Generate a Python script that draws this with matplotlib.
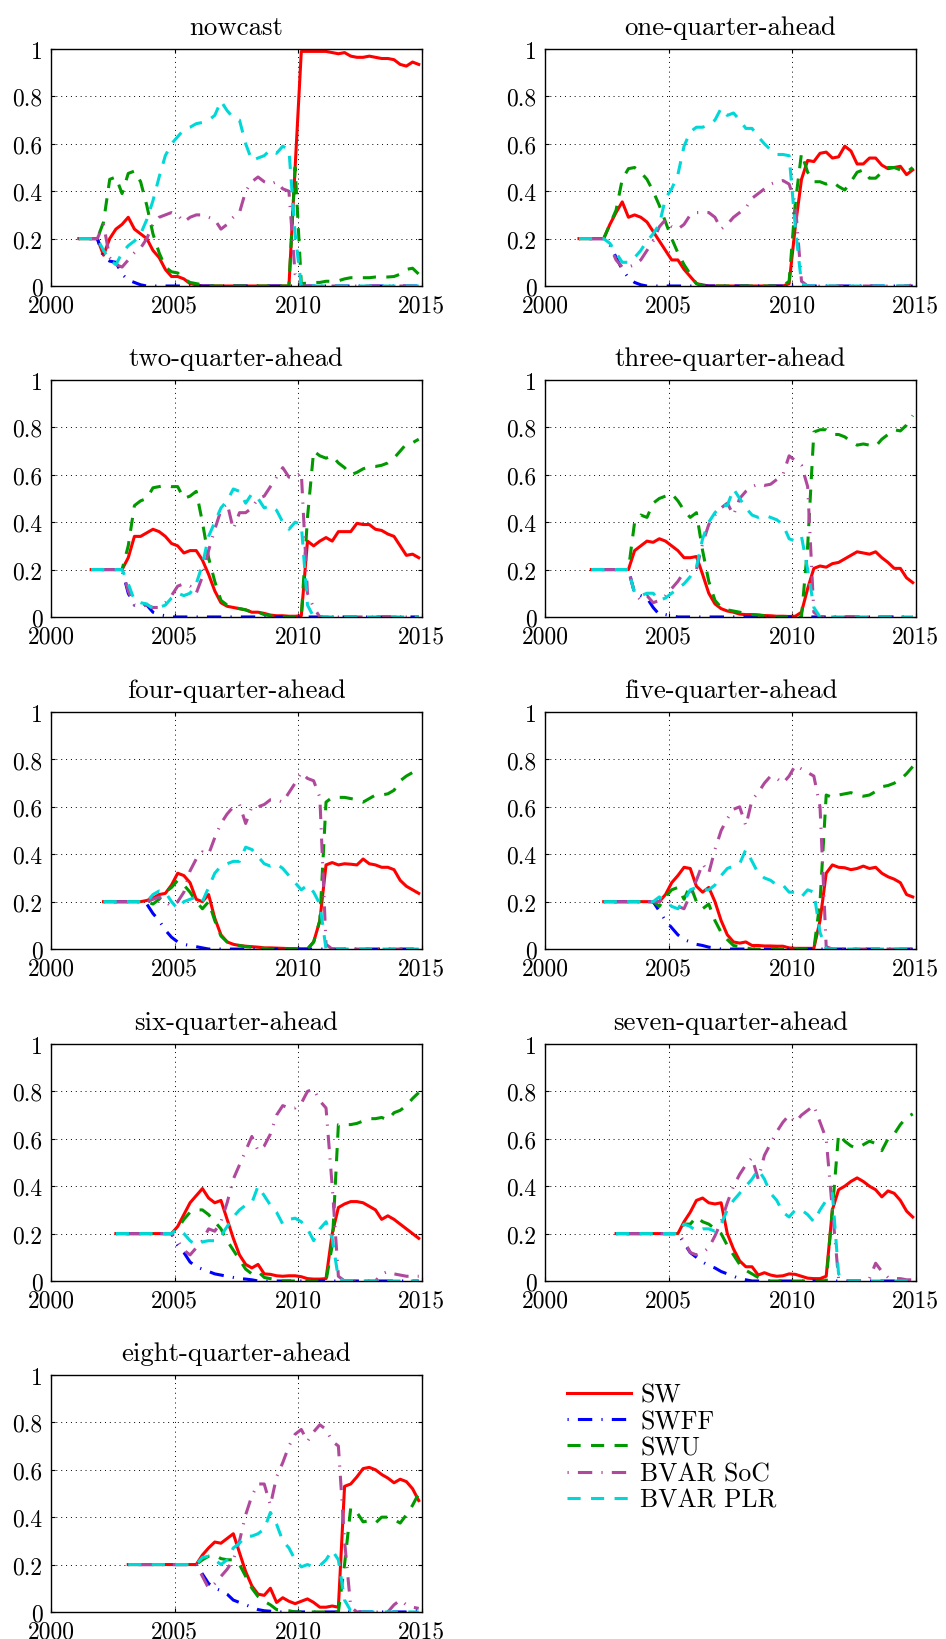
import numpy as np
import matplotlib
matplotlib.use('Agg')
import matplotlib.pyplot as plt

# quarterly dates, every series ends at the last one
quarters = np.arange(56) * 0.25 + 2001.125

titles = ['nowcast', 'one-quarter-ahead', 'two-quarter-ahead', 'three-quarter-ahead',
          'four-quarter-ahead', 'five-quarter-ahead', 'six-quarter-ahead',
          'seven-quarter-ahead', 'eight-quarter-ahead']
labels = ['SW', 'SWFF', 'SWU', 'BVAR SoC', 'BVAR PLR']

# model weights, one list per model and horizon
sw_h0 = [0.2, 0.2, 0.2, 0.2, 0.13, 0.2, 0.24, 0.26, 0.29, 0.24, 0.22, 0.2, 0.15, 0.12, 0.07, 0.04,
         0.04, 0.03, 0.01, 0.005, 0, 0, 0, 0, 0, 0, 0, 0, 0, 0, 0, 0, 0, 0, 0, 0.5, 0.99, 0.99, 0.99,
         0.99, 0.99, 0.985, 0.98, 0.985, 0.97, 0.965, 0.965, 0.97, 0.965, 0.96, 0.96, 0.955, 0.935,
         0.928, 0.945, 0.935]
swff_h0 = [0.2, 0.2, 0.2, 0.2, 0.12, 0.105, 0.1, 0.05, 0.025, 0.015, 0.005, 0, 0, 0, 0, 0, 0, 0, 0,
           0, 0, 0, 0, 0, 0, 0, 0, 0, 0, 0, 0, 0, 0, 0, 0, 0, 0, 0, 0, 0, 0, 0, 0, 0, 0, 0, 0, 0, 0,
           0, 0, 0, 0, 0, 0, 0]
swu_h0 = [0.2, 0.2, 0.2, 0.2, 0.27, 0.45, 0.46, 0.39, 0.475, 0.485, 0.44, 0.34, 0.22, 0.14, 0.08,
          0.06, 0.055, 0.03, 0.015, 0.01, 0.005, 0, 0, 0, 0, 0, 0, 0, 0, 0, 0, 0, 0, 0, 0, 0.5, 0.01,
          0.012, 0.015, 0.015, 0.02, 0.02, 0.022, 0.03, 0.035, 0.035, 0.035, 0.035, 0.038, 0.038,
          0.038, 0.04, 0.05, 0.07, 0.075, 0.05]
soc_h0 = [0.2, 0.2, 0.2, 0.2, 0.26, 0.12, 0.09, 0.08, 0.11, 0.14, 0.16, 0.2, 0.26, 0.29, 0.3, 0.31,
          0.3, 0.27, 0.29, 0.3, 0.3, 0.29, 0.28, 0.24, 0.26, 0.29, 0.31, 0.4, 0.44, 0.46, 0.44, 0.43,
          0.44, 0.41, 0.4, 0.05, 0, 0, 0, 0, 0, 0, 0, 0, 0, 0, 0, 0, 0, 0, 0, 0, 0, 0, 0, 0]
plr_h0 = [0.2, 0.2, 0.2, 0.2, 0.15, 0.11, 0.09, 0.14, 0.17, 0.19, 0.22, 0.28, 0.36, 0.46, 0.55, 0.6,
          0.63, 0.66, 0.67, 0.685, 0.69, 0.7, 0.72, 0.78, 0.74, 0.71, 0.7, 0.6, 0.53, 0.54, 0.55,
          0.575, 0.56, 0.59, 0.575, 0.22, 0, 0, 0, 0, 0, 0, 0, 0, 0, 0, 0, 0, 0, 0, 0, 0, 0, 0, 0, 0]

sw_h1 = [0.2, 0.2, 0.2, 0.2, 0.2, 0.26, 0.31, 0.355, 0.29, 0.3, 0.29, 0.27, 0.23, 0.19, 0.15, 0.11,
         0.11, 0.07, 0.04, 0.01, 0.005, 0, 0, 0, 0, 0, 0, 0, 0, 0, 0, 0, 0, 0, 0.01, 0.25, 0.45, 0.53,
         0.525, 0.56, 0.565, 0.54, 0.545, 0.59, 0.57, 0.515, 0.515, 0.54, 0.54, 0.51, 0.495, 0.5,
         0.505, 0.47, 0.49]
swff_h1 = [0.2, 0.2, 0.2, 0.2, 0.2, 0.18, 0.12, 0.07, 0.035, 0.015, 0.005, 0, 0, 0, 0, 0, 0, 0, 0,
           0, 0, 0, 0, 0, 0, 0, 0, 0, 0, 0, 0, 0, 0, 0, 0, 0, 0, 0, 0, 0, 0, 0, 0, 0, 0, 0, 0, 0, 0,
           0, 0, 0, 0, 0, 0]
swu_h1 = [0.2, 0.2, 0.2, 0.2, 0.2, 0.26, 0.32, 0.45, 0.495, 0.5, 0.48, 0.45, 0.4, 0.34, 0.27, 0.2,
          0.14, 0.09, 0.05, 0.01, 0, 0, 0, 0, 0, 0, 0, 0, 0, 0, 0, 0, 0, 0, 0.02, 0.35, 0.56, 0.48,
          0.44, 0.44, 0.43, 0.44, 0.42, 0.405, 0.44, 0.48, 0.49, 0.455, 0.455, 0.48, 0.5, 0.5, 0.49,
          0.48, 0.5]
soc_h1 = [0.2, 0.2, 0.2, 0.2, 0.2, 0.17, 0.11, 0.08, 0.08, 0.09, 0.11, 0.15, 0.19, 0.25, 0.28, 0.25,
          0.24, 0.26, 0.3, 0.31, 0.31, 0.31, 0.29, 0.24, 0.26, 0.29, 0.31, 0.33, 0.37, 0.39, 0.41,
          0.43, 0.44, 0.445, 0.43, 0.35, 0.02, 0, 0, 0, 0, 0, 0, 0, 0, 0, 0, 0, 0, 0, 0, 0, 0, 0,
          0.005]
plr_h1 = [0.2, 0.2, 0.2, 0.2, 0.2, 0.18, 0.14, 0.1, 0.1, 0.12, 0.15, 0.19, 0.22, 0.26, 0.37, 0.41,
          0.47, 0.59, 0.65, 0.67, 0.67, 0.68, 0.7, 0.75, 0.72, 0.73, 0.7, 0.665, 0.665, 0.63, 0.6,
          0.575, 0.555, 0.555, 0.55, 0.25, 0.01, 0, 0, 0, 0, 0, 0, 0, 0, 0, 0, 0, 0, 0, 0, 0, 0, 0, 0]

sw_h2 = [0.2, 0.2, 0.2, 0.2, 0.2, 0.2, 0.25, 0.34, 0.34, 0.355, 0.37, 0.36, 0.34, 0.31, 0.3, 0.27,
         0.28, 0.28, 0.24, 0.18, 0.11, 0.06, 0.045, 0.04, 0.035, 0.03, 0.02, 0.02, 0.015, 0.008,
         0.005, 0.005, 0.003, 0.003, 0.005, 0.32, 0.3, 0.32, 0.335, 0.32, 0.36, 0.36, 0.36, 0.395,
         0.39, 0.39, 0.37, 0.365, 0.35, 0.34, 0.3, 0.26, 0.265, 0.25]
swff_h2 = [0.2, 0.2, 0.2, 0.2, 0.2, 0.2, 0.1, 0.05, 0.06, 0.05, 0.02, 0.01, 0.005, 0, 0, 0, 0, 0, 0,
           0, 0, 0, 0, 0, 0, 0, 0, 0, 0, 0, 0, 0, 0, 0, 0, 0, 0, 0, 0, 0, 0, 0, 0, 0, 0, 0, 0, 0, 0,
           0, 0, 0, 0, 0]
swu_h2 = [0.2, 0.2, 0.2, 0.2, 0.2, 0.2, 0.3, 0.47, 0.49, 0.5, 0.545, 0.55, 0.555, 0.55, 0.55, 0.5,
          0.51, 0.53, 0.4, 0.25, 0.15, 0.07, 0.05, 0.04, 0.035, 0.03, 0.02, 0.02, 0.01, 0.005, 0, 0,
          0, 0, 0, 0.42, 0.7, 0.68, 0.67, 0.68, 0.65, 0.63, 0.6, 0.61, 0.625, 0.635, 0.635, 0.64,
          0.65, 0.67, 0.7, 0.73, 0.735, 0.75]
soc_h2 = [0.2, 0.2, 0.2, 0.2, 0.2, 0.2, 0.11, 0.05, 0.045, 0.05, 0.04, 0.04, 0.06, 0.09, 0.13, 0.14,
          0.13, 0.1, 0.17, 0.28, 0.37, 0.45, 0.48, 0.37, 0.44, 0.44, 0.46, 0.5, 0.51, 0.55, 0.59,
          0.63, 0.59, 0.59, 0.61, 0.1, 0.04, 0, 0, 0, 0, 0, 0, 0, 0, 0, 0, 0, 0, 0, 0, 0, 0, 0]
plr_h2 = [0.2, 0.2, 0.2, 0.2, 0.2, 0.2, 0.14, 0.07, 0.06, 0.055, 0.035, 0.04, 0.05, 0.08, 0.1, 0.09,
          0.1, 0.14, 0.22, 0.34, 0.4, 0.46, 0.49, 0.54, 0.53, 0.48, 0.52, 0.5, 0.46, 0.47, 0.45, 0.4,
          0.37, 0.4, 0.39, 0.05, 0, 0, 0, 0, 0, 0, 0, 0, 0, 0, 0, 0, 0, 0, 0, 0, 0, 0]

sw_h3 = [0.2, 0.2, 0.2, 0.2, 0.2, 0.2, 0.2, 0.28, 0.3, 0.32, 0.315, 0.33, 0.32, 0.3, 0.28, 0.25,
         0.25, 0.255, 0.18, 0.1, 0.055, 0.035, 0.025, 0.02, 0.012, 0.01, 0.01, 0.008, 0.006, 0.005,
         0.003, 0.003, 0.002, 0.003, 0.02, 0.12, 0.205, 0.215, 0.21, 0.225, 0.23, 0.245, 0.26,
         0.275, 0.27, 0.265, 0.275, 0.25, 0.23, 0.205, 0.205, 0.165, 0.145]
swff_h3 = [0.2, 0.2, 0.2, 0.2, 0.2, 0.2, 0.2, 0.1, 0.09, 0.08, 0.04, 0.01, 0.01, 0.005, 0, 0, 0, 0,
           0, 0, 0, 0, 0, 0, 0, 0, 0, 0, 0, 0, 0, 0, 0, 0, 0, 0, 0, 0, 0, 0, 0, 0, 0, 0, 0, 0, 0, 0,
           0, 0, 0, 0, 0]
swu_h3 = [0.2, 0.2, 0.2, 0.2, 0.2, 0.2, 0.2, 0.4, 0.43, 0.42, 0.48, 0.5, 0.51, 0.52, 0.49, 0.45,
          0.42, 0.44, 0.28, 0.15, 0.07, 0.04, 0.03, 0.025, 0.02, 0.015, 0.01, 0.008, 0.005, 0.003, 0,
          0, 0, 0, 0, 0.3, 0.78, 0.79, 0.79, 0.77, 0.77, 0.76, 0.74, 0.725, 0.73, 0.725, 0.72, 0.75,
          0.77, 0.79, 0.785, 0.81, 0.85]
soc_h3 = [0.2, 0.2, 0.2, 0.2, 0.2, 0.2, 0.2, 0.1, 0.07, 0.09, 0.06, 0.07, 0.09, 0.12, 0.15, 0.19,
          0.2, 0.2, 0.31, 0.39, 0.43, 0.46, 0.48, 0.43, 0.5, 0.53, 0.55, 0.56, 0.555, 0.56, 0.58, 0.6,
          0.68, 0.66, 0.64, 0.55, 0.02, 0, 0, 0, 0, 0, 0, 0, 0, 0, 0, 0, 0, 0, 0, 0, 0]
plr_h3 = [0.2, 0.2, 0.2, 0.2, 0.2, 0.2, 0.2, 0.1, 0.09, 0.1, 0.1, 0.07, 0.08, 0.1, 0.12, 0.14, 0.17,
          0.21, 0.33, 0.4, 0.44, 0.47, 0.47, 0.54, 0.5, 0.46, 0.43, 0.42, 0.43, 0.42, 0.41, 0.39,
          0.33, 0.32, 0.34, 0.2, 0.04, 0, 0, 0, 0, 0, 0, 0, 0, 0, 0, 0, 0, 0, 0, 0, 0]

sw_h4 = [0.2, 0.2, 0.2, 0.2, 0.2, 0.2, 0.2, 0.205, 0.215, 0.23, 0.235, 0.27, 0.32, 0.31, 0.28, 0.21,
         0.2, 0.23, 0.13, 0.06, 0.03, 0.02, 0.015, 0.012, 0.01, 0.008, 0.005, 0.005, 0.004, 0.003,
         0.002, 0.002, 0, 0, 0.03, 0.12, 0.355, 0.365, 0.355, 0.36, 0.358, 0.355, 0.38, 0.36, 0.355,
         0.345, 0.345, 0.335, 0.29, 0.265, 0.25, 0.235]
swff_h4 = [0.2, 0.2, 0.2, 0.2, 0.2, 0.2, 0.2, 0.19, 0.15, 0.12, 0.08, 0.05, 0.03, 0.02, 0.015, 0.01,
           0.005, 0, 0, 0, 0, 0, 0, 0, 0, 0, 0, 0, 0, 0, 0, 0, 0, 0, 0, 0, 0, 0, 0, 0, 0, 0, 0, 0, 0,
           0, 0, 0, 0, 0, 0, 0]
swu_h4 = [0.2, 0.2, 0.2, 0.2, 0.2, 0.2, 0.2, 0.2, 0.19, 0.21, 0.24, 0.26, 0.29, 0.27, 0.24, 0.2,
          0.17, 0.2, 0.12, 0.055, 0.03, 0.02, 0.015, 0.01, 0.008, 0.005, 0.003, 0, 0, 0, 0, 0, 0, 0,
          0.03, 0.12, 0.62, 0.64, 0.64, 0.64, 0.635, 0.63, 0.62, 0.635, 0.65, 0.65, 0.655, 0.67,
          0.71, 0.73, 0.745, 0.74]
soc_h4 = [0.2, 0.2, 0.2, 0.2, 0.2, 0.2, 0.2, 0.2, 0.21, 0.22, 0.2, 0.18, 0.2, 0.24, 0.33, 0.38,
          0.41, 0.4, 0.47, 0.53, 0.57, 0.6, 0.61, 0.53, 0.6, 0.6, 0.61, 0.63, 0.63, 0.62, 0.66, 0.7,
          0.745, 0.72, 0.71, 0.64, 0.02, 0, 0, 0, 0, 0, 0, 0, 0, 0, 0, 0, 0, 0, 0, 0.01]
plr_h4 = [0.2, 0.2, 0.2, 0.2, 0.2, 0.2, 0.2, 0.2, 0.23, 0.245, 0.24, 0.2, 0.17, 0.2, 0.21, 0.22,
          0.2, 0.26, 0.32, 0.35, 0.36, 0.37, 0.37, 0.43, 0.42, 0.39, 0.36, 0.35, 0.36, 0.34, 0.31,
          0.28, 0.25, 0.27, 0.24, 0.19, 0, 0, 0, 0, 0, 0, 0, 0, 0, 0, 0, 0, 0, 0, 0, 0]

sw_h5 = [0.2, 0.2, 0.2, 0.2, 0.2, 0.2, 0.2, 0.2, 0.2, 0.2, 0.23, 0.28, 0.31, 0.345, 0.34, 0.265,
         0.24, 0.26, 0.2, 0.12, 0.06, 0.03, 0.025, 0.03, 0.015, 0.015, 0.013, 0.013, 0.012, 0.012,
         0.005, 0.003, 0.003, 0.003, 0.003, 0.12, 0.32, 0.355, 0.345, 0.343, 0.335, 0.34, 0.35,
         0.34, 0.345, 0.32, 0.305, 0.295, 0.28, 0.23, 0.22]
swff_h5 = [0.2, 0.2, 0.2, 0.2, 0.2, 0.2, 0.2, 0.2, 0.2, 0.16, 0.12, 0.09, 0.06, 0.04, 0.03, 0.02,
           0.015, 0.008, 0.005, 0, 0, 0, 0, 0, 0, 0, 0, 0, 0, 0, 0, 0, 0, 0, 0, 0, 0, 0, 0, 0, 0, 0,
           0, 0, 0, 0, 0, 0, 0, 0, 0]
swu_h5 = [0.2, 0.2, 0.2, 0.2, 0.2, 0.2, 0.2, 0.2, 0.2, 0.18, 0.22, 0.25, 0.26, 0.21, 0.27, 0.2, 0.17,
          0.19, 0.12, 0.07, 0.04, 0.015, 0.01, 0.005, 0, 0, 0, 0, 0, 0, 0, 0, 0, 0, 0, 0.2, 0.65,
          0.64, 0.65, 0.655, 0.66, 0.65, 0.645, 0.65, 0.665, 0.685, 0.69, 0.7, 0.715, 0.74, 0.77]
soc_h5 = [0.2, 0.2, 0.2, 0.2, 0.2, 0.2, 0.2, 0.2, 0.2, 0.2, 0.215, 0.19, 0.18, 0.17, 0.23, 0.29,
          0.36, 0.32, 0.42, 0.5, 0.55, 0.59, 0.6, 0.52, 0.63, 0.66, 0.7, 0.73, 0.72, 0.7, 0.73,
          0.775, 0.76, 0.745, 0.73, 0.6, 0.01, 0, 0, 0, 0, 0, 0, 0, 0, 0, 0, 0, 0, 0, 0]
plr_h5 = [0.2, 0.2, 0.2, 0.2, 0.2, 0.2, 0.2, 0.2, 0.2, 0.22, 0.2, 0.18, 0.17, 0.2, 0.25, 0.26, 0.25,
          0.25, 0.27, 0.31, 0.34, 0.35, 0.36, 0.42, 0.37, 0.32, 0.3, 0.29, 0.27, 0.27, 0.24, 0.24,
          0.22, 0.25, 0.24, 0.07, 0, 0, 0, 0, 0, 0, 0, 0, 0, 0, 0, 0, 0, 0, 0]

sw_h6 = [0.2, 0.2, 0.2, 0.2, 0.2, 0.2, 0.2, 0.2, 0.2, 0.2, 0.23, 0.28, 0.33, 0.36, 0.39, 0.35,
         0.33, 0.34, 0.26, 0.18, 0.11, 0.07, 0.055, 0.07, 0.03, 0.028, 0.022, 0.02, 0.022, 0.022,
         0.018, 0.01, 0.008, 0.008, 0.01, 0.2, 0.31, 0.325, 0.335, 0.335, 0.33, 0.315, 0.3, 0.26,
         0.275, 0.26, 0.24, 0.22, 0.2, 0.18]
swff_h6 = [0.2, 0.2, 0.2, 0.2, 0.2, 0.2, 0.2, 0.2, 0.2, 0.2, 0.15, 0.12, 0.08, 0.06, 0.05, 0.04,
           0.03, 0.025, 0.02, 0.015, 0.01, 0.008, 0.005, 0, 0, 0, 0, 0, 0, 0, 0, 0, 0, 0, 0, 0, 0,
           0, 0, 0, 0, 0, 0, 0, 0, 0, 0, 0, 0, 0]
swu_h6 = [0.2, 0.2, 0.2, 0.2, 0.2, 0.2, 0.2, 0.2, 0.2, 0.2, 0.22, 0.26, 0.29, 0.3, 0.3, 0.28, 0.25,
          0.22, 0.17, 0.13, 0.09, 0.05, 0.03, 0.04, 0.015, 0.01, 0.005, 0, 0, 0, 0, 0, 0, 0, 0,
          0.15, 0.66, 0.66, 0.66, 0.665, 0.675, 0.685, 0.685, 0.69, 0.68, 0.71, 0.72, 0.74, 0.77,
          0.795]
soc_h6 = [0.2, 0.2, 0.2, 0.2, 0.2, 0.2, 0.2, 0.2, 0.2, 0.2, 0.17, 0.13, 0.11, 0.14, 0.17, 0.22,
          0.21, 0.25, 0.33, 0.43, 0.49, 0.55, 0.61, 0.55, 0.57, 0.62, 0.7, 0.74, 0.73, 0.73, 0.75,
          0.8, 0.81, 0.76, 0.73, 0.4, 0.02, 0, 0, 0, 0, 0, 0, 0.03, 0.04, 0.03, 0.025, 0.02, 0.02,
          0.02]
plr_h6 = [0.2, 0.2, 0.2, 0.2, 0.2, 0.2, 0.2, 0.2, 0.2, 0.2, 0.22, 0.2, 0.17, 0.15, 0.165, 0.17,
          0.17, 0.19, 0.23, 0.27, 0.3, 0.32, 0.33, 0.4, 0.36, 0.32, 0.29, 0.24, 0.26, 0.265, 0.25,
          0.22, 0.17, 0.22, 0.25, 0.18, 0.01, 0, 0, 0, 0, 0, 0, 0, 0, 0, 0, 0, 0, 0]

sw_h7 = [0.2, 0.2, 0.2, 0.2, 0.2, 0.2, 0.2, 0.2, 0.2, 0.2, 0.2, 0.25, 0.29, 0.34, 0.35, 0.33, 0.325,
         0.33, 0.2, 0.135, 0.085, 0.06, 0.06, 0.025, 0.035, 0.025, 0.02, 0.022, 0.03, 0.028, 0.02,
         0.012, 0.01, 0.01, 0.02, 0.3, 0.385, 0.4, 0.42, 0.435, 0.42, 0.4, 0.385, 0.355, 0.38,
         0.37, 0.34, 0.295, 0.27]
swff_h7 = [0.2, 0.2, 0.2, 0.2, 0.2, 0.2, 0.2, 0.2, 0.2, 0.2, 0.2, 0.16, 0.12, 0.1, 0.08, 0.065,
           0.055, 0.04, 0.03, 0.02, 0.01, 0.005, 0, 0, 0, 0, 0, 0, 0, 0, 0, 0, 0, 0, 0, 0, 0, 0, 0,
           0, 0, 0, 0, 0, 0, 0, 0, 0, 0]
swu_h7 = [0.2, 0.2, 0.2, 0.2, 0.2, 0.2, 0.2, 0.2, 0.2, 0.2, 0.2, 0.24, 0.24, 0.27, 0.25, 0.24, 0.22,
          0.2, 0.15, 0.11, 0.07, 0.045, 0.03, 0.015, 0.005, 0, 0, 0, 0, 0, 0, 0, 0, 0, 0, 0.3, 0.62,
          0.59, 0.57, 0.56, 0.575, 0.59, 0.58, 0.55, 0.6, 0.62, 0.66, 0.69, 0.705]
soc_h7 = [0.2, 0.2, 0.2, 0.2, 0.2, 0.2, 0.2, 0.2, 0.2, 0.2, 0.2, 0.17, 0.12, 0.11, 0.12, 0.14, 0.19,
          0.25, 0.33, 0.4, 0.45, 0.49, 0.52, 0.43, 0.53, 0.58, 0.63, 0.67, 0.7, 0.67, 0.7, 0.72,
          0.74, 0.67, 0.6, 0.3, 0.01, 0, 0, 0, 0, 0.01, 0.075, 0.04, 0.015, 0.01, 0.01, 0.005, 0.005]
plr_h7 = [0.2, 0.2, 0.2, 0.2, 0.2, 0.2, 0.2, 0.2, 0.2, 0.2, 0.2, 0.24, 0.23, 0.21, 0.22, 0.22, 0.21,
          0.24, 0.3, 0.34, 0.37, 0.4, 0.43, 0.47, 0.43, 0.37, 0.34, 0.29, 0.27, 0.3, 0.3, 0.28, 0.25,
          0.3, 0.34, 0.37, 0.03, 0, 0, 0, 0, 0, 0, 0, 0, 0, 0, 0, 0]

sw_h8 = [0.2, 0.2, 0.2, 0.2, 0.2, 0.2, 0.2, 0.2, 0.2, 0.2, 0.2, 0.2, 0.24, 0.27, 0.295, 0.29, 0.31,
         0.33, 0.25, 0.17, 0.11, 0.075, 0.07, 0.1, 0.04, 0.06, 0.045, 0.035, 0.045, 0.055, 0.04,
         0.02, 0.02, 0.025, 0.02, 0.53, 0.54, 0.57, 0.605, 0.61, 0.6, 0.58, 0.565, 0.545, 0.56,
         0.55, 0.52, 0.47]
swff_h8 = [0.2, 0.2, 0.2, 0.2, 0.2, 0.2, 0.2, 0.2, 0.2, 0.2, 0.2, 0.2, 0.16, 0.12, 0.1, 0.09, 0.075,
           0.05, 0.04, 0.03, 0.02, 0.01, 0.005, 0.003, 0, 0, 0, 0, 0, 0, 0, 0, 0, 0, 0, 0, 0, 0, 0,
           0, 0, 0, 0, 0, 0, 0, 0.005, 0.005]
swu_h8 = [0.2, 0.2, 0.2, 0.2, 0.2, 0.2, 0.2, 0.2, 0.2, 0.2, 0.2, 0.2, 0.22, 0.235, 0.24, 0.225,
          0.22, 0.22, 0.2, 0.15, 0.1, 0.065, 0.045, 0.03, 0.01, 0.008, 0.005, 0, 0, 0, 0, 0, 0, 0,
          0, 0.2, 0.44, 0.42, 0.38, 0.385, 0.375, 0.4, 0.4, 0.39, 0.375, 0.41, 0.45, 0.5]
soc_h8 = [0.2, 0.2, 0.2, 0.2, 0.2, 0.2, 0.2, 0.2, 0.2, 0.2, 0.2, 0.2, 0.15, 0.1, 0.12, 0.15, 0.18,
          0.22, 0.3, 0.41, 0.49, 0.54, 0.54, 0.45, 0.57, 0.63, 0.7, 0.75, 0.77, 0.72, 0.76, 0.79,
          0.77, 0.72, 0.7, 0.3, 0.02, 0, 0, 0, 0, 0, 0, 0.03, 0.05, 0.03, 0.02, 0.015]
plr_h8 = [0.2, 0.2, 0.2, 0.2, 0.2, 0.2, 0.2, 0.2, 0.2, 0.2, 0.2, 0.2, 0.23, 0.235, 0.22, 0.2, 0.22,
          0.27, 0.29, 0.32, 0.32, 0.33, 0.35, 0.42, 0.37, 0.3, 0.27, 0.22, 0.19, 0.2, 0.19, 0.195,
          0.22, 0.26, 0.22, 0.05, 0.005, 0, 0, 0, 0, 0, 0, 0, 0, 0, 0, 0]

sw_all = [sw_h0, sw_h1, sw_h2, sw_h3, sw_h4, sw_h5, sw_h6, sw_h7, sw_h8]
swff_all = [swff_h0, swff_h1, swff_h2, swff_h3, swff_h4, swff_h5, swff_h6, swff_h7, swff_h8]
swu_all = [swu_h0, swu_h1, swu_h2, swu_h3, swu_h4, swu_h5, swu_h6, swu_h7, swu_h8]
soc_all = [soc_h0, soc_h1, soc_h2, soc_h3, soc_h4, soc_h5, soc_h6, soc_h7, soc_h8]
plr_all = [plr_h0, plr_h1, plr_h2, plr_h3, plr_h4, plr_h5, plr_h6, plr_h7, plr_h8]

# line styles (dash lengths in units of linewidth)
styles = [
    dict(color='#ff0000', ls='-'),
    dict(color='#0000ff', ls=(0, (0.4, 3.0, 4.7, 3.0))),
    dict(color='#009900', ls=(0, (4.3, 3.4))),
    dict(color='#b0489c', ls=(0, (0.4, 3.0, 4.7, 3.0))),
    dict(color='#00d8d8', ls=(0, (4.3, 3.4))),
]

plt.rcParams['font.family'] = 'cmr10'
plt.rcParams['mathtext.fontset'] = 'cm'
plt.rcParams['axes.unicode_minus'] = False

fig = plt.figure(figsize=(9.46, 16.4), dpi=100)

lefts = [0.0539, 0.5761]
bottoms = [0.825, 0.6232, 0.4207, 0.2183, 0.0165]
w, h = 0.392, 0.1445

lines = []
for i, title in enumerate(titles):
    ax = fig.add_axes([lefts[i % 2], bottoms[i // 2], w, h])
    series = [sw_all[i], swff_all[i], swu_all[i], soc_all[i], plr_all[i]]
    for vals, st, lab in zip(series, styles, labels):
        x = quarters[len(quarters) - len(vals):]
        ln, = ax.plot(x, vals, color=st['color'], linestyle=st['ls'], lw=2.2, label=lab)
        if i == 0:
            lines.append(ln)
    ax.set_xlim(2000, 2015)
    ax.set_ylim(0, 1)
    ax.set_xticks([2000, 2005, 2010, 2015])
    ax.set_xticklabels(['2000', '2005', '2010', '2015'])
    ax.set_yticks([0, 0.2, 0.4, 0.6, 0.8, 1])
    ax.set_yticklabels(['0', '0.2', '0.4', '0.6', '0.8', '1'])
    ax.grid(True, color='k', linestyle=(0, (1, 4)), lw=0.7)
    ax.tick_params(direction='in', length=3, width=0.8, labelsize=17, top=True, right=True, pad=6)
    for sp in ax.spines.values():
        sp.set_linewidth(1.0)
    ax.set_title(title, fontsize=19.3, pad=11)

fig.legend(lines, labels, loc='upper left', bbox_to_anchor=(567 / 946, 1 - 1384 / 1640),
           frameon=False, fontsize=18.5, handlelength=2.5, handletextpad=0.36,
           labelspacing=0.1, borderpad=0, borderaxespad=0)

fig.savefig('out.png', dpi=100)
